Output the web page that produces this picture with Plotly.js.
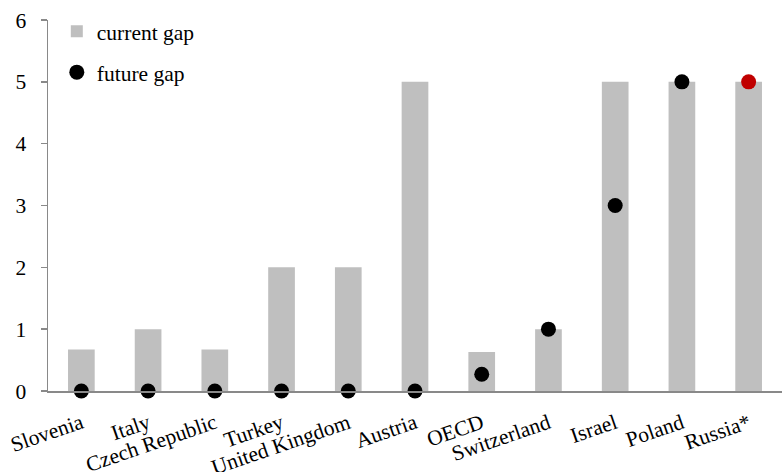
<!DOCTYPE html>
<html>
<head>
<meta charset="utf-8">
<script src="https://cdn.plot.ly/plotly-3.0.1.min.js"></script>
<style>html,body{margin:0;padding:0;background:#fff;}#chart{width:784px;height:472px;}</style>
</head>
<body>
<div id="chart"></div>
<script>
const categories = ["Slovenia", "Italy", "Czech Republic", "Turkey", "United Kingdom", "Austria", "OECD", "Switzerland", "Israel", "Poland", "Russia*"];
const currentGap = [0.67, 1, 0.67, 2, 2, 5, 0.63, 1, 5, 5, 5];
const futureGap = [0, 0, 0, 0, 0, 0, 0.27, 1, 3, 5, 5];
const markerColors = categories.map(c => c === "Russia*" ? "#C00000" : "#000000");

const font = {family: "Liberation Serif, Times New Roman, serif", size: 21.5, color: "#000"};

const traces = [
  {
    type: "bar", name: "current gap", x: categories, y: currentGap,
    marker: {color: "#BFBFBF"}, legendgroup: "a", hoverinfo: "skip"
  },
  {
    type: "scatter", mode: "markers", name: "future gap", x: categories, y: futureGap,
    marker: {color: markerColors, size: 15}, cliponaxis: false, legendgroup: "b", hoverinfo: "skip"
  }
];

const layout = {
  width: 784, height: 472,
  margin: {l: 48, r: 2, t: 20, b: 81},
  paper_bgcolor: "#fff", plot_bgcolor: "#fff",
  font: font,
  bargap: 0.6,
  showlegend: true,
  legend: {x: 0.012, y: 1.025, xanchor: "left", yanchor: "top", bgcolor: "rgba(0,0,0,0)",
           font: font, tracegroupgap: 10, traceorder: "grouped"},
  xaxis: {
    type: "category", range: [-0.5, categories.length - 0.5],
    showgrid: false, zeroline: false, automargin: false,
    showline: true, linecolor: "#898989", linewidth: 1.5,
    ticks: "", tickangle: -19, tickfont: font, ticklabelstandoff: 10
  },
  yaxis: {
    range: [0, 6], dtick: 1, showgrid: false, zeroline: false, automargin: false,
    showline: true, linecolor: "#898989", linewidth: 1.5,
    ticks: "outside", ticklen: 6, tickcolor: "#898989", tickwidth: 1.5,
    tickfont: font, ticklabelstandoff: 10
  }
};

Plotly.newPlot("chart", traces, layout, {staticPlot: true});
</script>
</body>
</html>
